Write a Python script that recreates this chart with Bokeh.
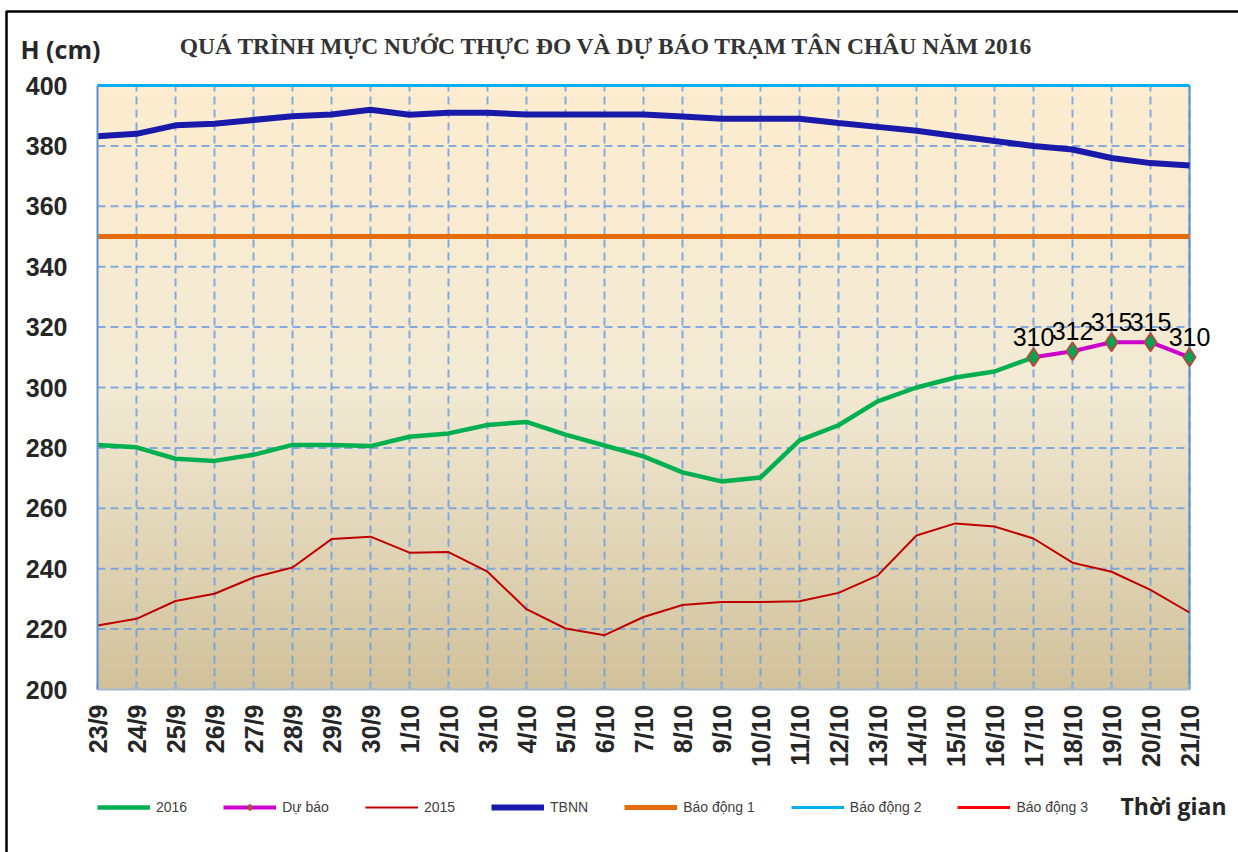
import math
from bokeh.plotting import figure
from bokeh.models import (Range1d, FixedTicker, Label, Legend, LegendItem, BoxAnnotation,
                          LinearAxis)
from bokeh.core.properties import value
from bokeh.embed import file_html
from bokeh.resources import INLINE

# ---------------- data ----------------
dates = ["23/9", "24/9", "25/9", "26/9", "27/9", "28/9", "29/9", "30/9",
         "1/10", "2/10", "3/10", "4/10", "5/10", "6/10", "7/10", "8/10",
         "9/10", "10/10", "11/10", "12/10", "13/10", "14/10", "15/10",
         "16/10", "17/10", "18/10", "19/10", "20/10", "21/10"]

dates_2016 = dates[:25]
h2016 = [281, 280.2, 276.4, 275.7, 277.7, 281, 281, 280.6, 283.7, 284.8,
         287.6, 288.6, 284.4, 280.8, 277.2, 271.9, 268.9, 270.2, 282.5,
         287.5, 295.4, 300, 303.3, 305.3, 310]

dates_du_bao = ["17/10", "18/10", "19/10", "20/10", "21/10"]
du_bao = [310, 312, 315, 315, 310]

h2015 = [221.2, 223.4, 229.3, 231.7, 237.1, 240.4, 249.8, 250.6, 245.3,
         245.5, 239, 226.6, 220.2, 218, 224, 228, 229, 229, 229.2, 232,
         237.7, 251, 255, 254, 250, 242, 239, 233, 225.5]

tbnn = [383.2, 384, 386.8, 387.3, 388.6, 389.8, 390.4, 392, 390.3, 391,
        391, 390.4, 390.4, 390.4, 390.4, 389.7, 389, 389, 389, 387.6,
        386.3, 385, 383.3, 381.6, 380, 378.8, 376, 374.3, 373.5]

bao_dong_1 = 350
bao_dong_2 = 400
bao_dong_3 = 450

y_ticks = list(range(200, 401, 20))

idx = {d: i for i, d in enumerate(dates)}
x_all = [idx[d] for d in dates]
x_2016 = [idx[d] for d in dates_2016]
x_db = [idx[d] for d in dates_du_bao]
x0, x1 = x_all[0], x_all[-1]
y0, y1 = y_ticks[0], y_ticks[-1]
x_span = [x0, x1]

# ---------------- layout (pixels) ----------------
W, H = 1238, 852
PL, PR, PT, PB = 97, 1189, 85, 689          # plot-area edges in canvas pixels
ux = (PR - PL) / (x1 - x0)
uy = (PB - PT) / (y1 - y0)
def X(px):
    return x0 + (px - PL) / ux
def Y(py):
    return y0 + (PB - py) / uy

p = figure(width=W, height=H,
           x_range=Range1d(X(0), X(W)), y_range=Range1d(Y(H), Y(0)),
           x_axis_location=None, y_axis_location=None,
           output_backend="svg", toolbar_location=None, min_border=0)
p.title = None
p.background_fill_color = "white"
p.border_fill_color = "white"
p.outline_line_color = None
p.grid.visible = False

# gradient background of the plot area
stops = [(0.0, (253, 236, 207)), (0.5, (242, 234, 212)), (1.0, (209, 193, 155))]
def grad(t):
    for (t0, c0), (t1, c1) in zip(stops[:-1], stops[1:]):
        if t <= t1:
            f = (t - t0) / (t1 - t0)
            return "#%02x%02x%02x" % tuple(int(round(a + (b - a) * f)) for a, b in zip(c0, c1))
    return "#%02x%02x%02x" % stops[-1][1]

nb = 80
step = (y1 - y0) / nb
for k in range(nb):
    b = y0 + k * step
    t = 1 - (b + step / 2 - y0) / (y1 - y0)
    p.add_layout(BoxAnnotation(left=x0, right=x1, bottom=b, top=min(b + step * 1.08, y1),
                               fill_color=grad(t), fill_alpha=1, line_color=None,
                               level="image"))

# dashed grid
grid_kw = dict(line_color="#6E9FE0", line_width=2, line_dash="8 5", line_alpha=0.85)
p.segment(x0=x_all[1:], y0=[y0] * (len(x_all) - 1), x1=x_all[1:], y1=[y1] * (len(x_all) - 1), **grid_kw)
p.segment(x0=[x0] * (len(y_ticks) - 1), y0=y_ticks[1:], x1=[x1] * (len(y_ticks) - 1), y1=y_ticks[1:], **grid_kw)

# right edge of the plot area
p.line([x1, x1], [y0, y1], line_color="#5B8FD1", line_width=2)

# axes at fixed locations
yaxis = LinearAxis(fixed_location=x0, bounds=(y0, y1), ticker=FixedTicker(ticks=y_ticks))
yaxis.major_tick_line_color = None
yaxis.minor_tick_line_color = None
yaxis.axis_line_color = "#5B8FD1"
yaxis.axis_line_width = 2
yaxis.major_label_text_font = "Liberation Sans"
yaxis.major_label_text_font_style = "bold"
yaxis.major_label_text_font_size = "25px"
yaxis.major_label_text_color = "#262626"
yaxis.major_label_standoff = 24
p.add_layout(yaxis, "left")

xaxis = LinearAxis(fixed_location=y0, bounds=(x0, x1), ticker=FixedTicker(ticks=x_all))
xaxis.major_label_overrides = {i: d for i, d in enumerate(dates)}
xaxis.major_label_orientation = math.pi / 2
xaxis.major_tick_in = 6
xaxis.major_tick_out = 0
xaxis.major_tick_line_color = "#8DB4E2"
xaxis.major_tick_line_width = 2
xaxis.minor_tick_line_color = None
xaxis.axis_line_color = "#A9B6C8"
xaxis.axis_line_width = 2
xaxis.major_label_text_font = "Liberation Sans"
xaxis.major_label_text_font_style = "bold"
xaxis.major_label_text_font_size = "25px"
xaxis.major_label_text_color = "#262626"
xaxis.major_label_standoff = 15
p.add_layout(xaxis, "below")

# series
r15 = p.line(x_all, h2015, line_color="#C00000", line_width=2)
r_b1 = p.line(x_span, [bao_dong_1] * 2, line_color="#E46C0A", line_width=5)
r_b3 = p.line(x_span, [bao_dong_3] * 2, line_color="#FF0000", line_width=3)
r_tb = p.line(x_all, tbnn, line_color="#1A1AAA", line_width=6)
r16 = p.line(x_2016, h2016, line_color="#00B050", line_width=4.5)
r_db = p.line(x_db, du_bao, line_color="#CC00CC", line_width=4)
r_b2 = p.line(x_span, [bao_dong_2] * 2, line_color="#00B0F0", line_width=3)
r_dbm = p.scatter(x_db, du_bao, marker="diamond", size=18, fill_color="#00A651",
                  line_color="#B5473F", line_width=2)
p.text(x_db, du_bao, text=[str(v) for v in du_bao], text_font=value("Liberation Sans"),
       text_font_size="25px", text_color="black", text_align="center",
       text_baseline="alphabetic", y_offset=-20)

legend = Legend(items=[
    LegendItem(label="2016", renderers=[r16]),
    LegendItem(label="Dự báo", renderers=[r_db, r_dbm]),
    LegendItem(label="2015", renderers=[r15]),
    LegendItem(label="TBNN", renderers=[r_tb]),
    LegendItem(label="Báo động 1", renderers=[r_b1]),
    LegendItem(label="Báo động 2", renderers=[r_b2]),
    LegendItem(label="Báo động 3", renderers=[r_b3]),
], orientation="horizontal", location=(PL, H - 815), glyph_width=53, glyph_height=14,
    label_standoff=6, spacing=36, padding=0, margin=0, border_line_color=None,
    background_fill_alpha=0, label_text_font="Liberation Sans",
    label_text_font_size="14px", label_text_color="#404040")
p.add_layout(legend, "center")

# texts outside the plot area
p.add_layout(Label(x=X(606), y=Y(45),
                   text="QUÁ TRÌNH MỰC NƯỚC THỰC ĐO VÀ DỰ BÁO TRẠM TÂN CHÂU NĂM 2016",
                   text_align="center", text_baseline="middle",
                   text_font="Liberation Serif", text_font_style="bold",
                   text_font_size="23.5px", text_color="#333333"))
p.add_layout(Label(x=X(20), y=Y(48), text="H (cm)",
                   text_align="left", text_baseline="middle", text_font="Open Sans",
                   text_font_style="bold", text_font_size="25px", text_color="#262626"))
p.add_layout(Label(x=X(1120), y=Y(805), text="Thời gian",
                   text_align="left", text_baseline="middle", text_font="Open Sans",
                   text_font_style="bold", text_font_size="23px", text_color="#262626"))

# outer black frame (left and top edges)
p.line([X(6), X(6), X(W)], [Y(H), Y(11), Y(11)], line_color="black", line_width=2.5)

open("out.html", "w").write(file_html(p, INLINE))
